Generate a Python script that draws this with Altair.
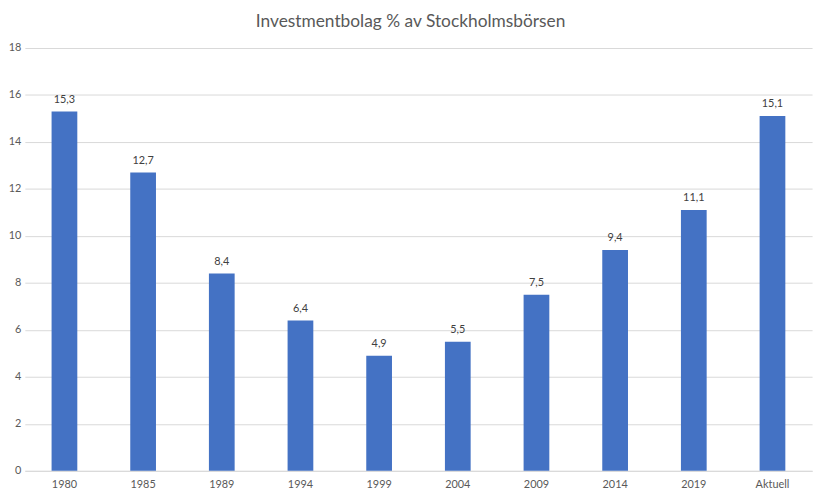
import altair as alt
import pandas as pd

categories = ["1980", "1985", "1989", "1994", "1999", "2004", "2009", "2014", "2019", "Aktuell"]
values = [15.3, 12.7, 8.4, 6.4, 4.9, 5.5, 7.5, 9.4, 11.1, 15.1]
labels = [f"{v:.1f}".replace(".", ",") for v in values]

df = pd.DataFrame({"cat": categories, "val": values, "lab": labels})

FONT = "Lato"
GREY = "#595959"

base = alt.Chart(df).encode(
    x=alt.X("cat:N", sort=categories,
            scale=alt.Scale(paddingInner=0.673, paddingOuter=0.34),
            axis=alt.Axis(title=None, labelAngle=0, ticks=False, domain=True,
                          domainColor="#d9d9d9", labelColor=GREY, labelFontSize=11,
                          labelFont=FONT, labelPadding=8))
)

bars = base.mark_bar(color="#4472C4").encode(
    y=alt.Y("val:Q", scale=alt.Scale(domain=[0, 18], nice=False),
            axis=alt.Axis(title=None, values=list(range(0, 19, 2)), ticks=False, domain=False,
                          gridColor="#d9d9d9", labelColor=GREY, labelFontSize=11,
                          labelFont=FONT, labelPadding=4))
)

text = base.mark_text(baseline="bottom", dy=-7, fontSize=11, font=FONT, color="#404040").encode(
    y="val:Q", text="lab:N"
)

chart = (bars + text).properties(
    width=795, height=427,
    autosize=alt.AutoSizeParams(type="none"),
    padding={"left": 17, "top": 38, "right": 8, "bottom": 20},
    title=alt.TitleParams("Investmentbolag % av Stockholmsbörsen", fontSize=17.5,
                          font=FONT, fontWeight="normal", color=GREY, offset=12, dx=-8),
).configure_view(stroke=None)

chart.save("out.html", embed_options={"renderer": "svg", "actions": False})
